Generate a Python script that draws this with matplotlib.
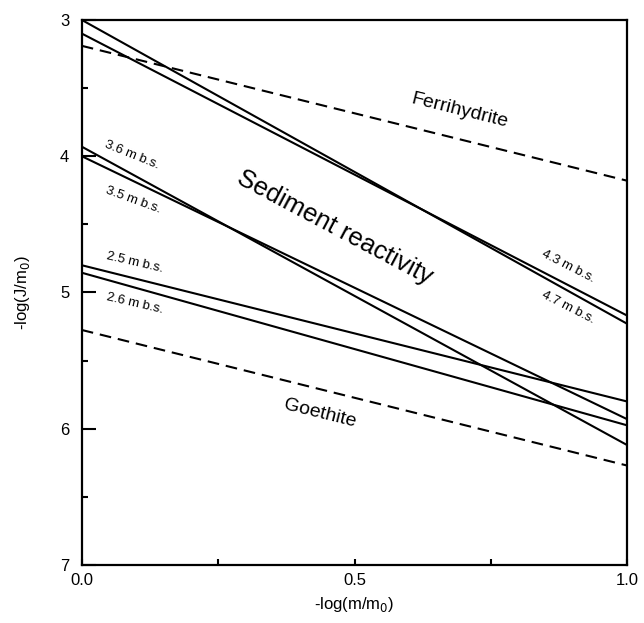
import numpy as np
import matplotlib
matplotlib.use("Agg")
import matplotlib.pyplot as plt
from matplotlib.ticker import MultipleLocator, FormatStrFormatter

plt.rcParams['font.family'] = ['Liberation Sans', 'DejaVu Sans']

# extremos de cada recta: valor en x=0 y en x=1
x_ext = [0.0, 1.0]
prof_labels = ['4.3 m b.s.', '4.7 m b.s.', '3.6 m b.s.', '3.5 m b.s.', '2.5 m b.s.', '2.6 m b.s.']
y_ini = [3.00, 3.10, 3.93, 4.00, 4.80, 4.855]
y_fin = [5.23, 5.17, 6.12, 5.93, 5.80, 5.975]
ferri = [3.19, 4.18]
goeth = [5.275, 6.27]

fig = plt.figure(figsize=(6.44, 6.23), dpi=100)
ax = fig.add_axes([0.127, 0.093, 0.847, 0.875])

for a, b in zip(y_ini, y_fin):
    ax.plot(x_ext, [a, b], color='black', lw=1.5, solid_capstyle='butt')
ax.plot(x_ext, ferri, color='black', lw=1.5, dashes=(5.6, 3.3))
ax.plot(x_ext, goeth, color='black', lw=1.5, dashes=(5.6, 3.3))

ax.set_xlim(0, 1)
ax.set_ylim(7, 3)

ax.xaxis.set_major_locator(MultipleLocator(0.5))
ax.xaxis.set_minor_locator(MultipleLocator(0.25))
ax.yaxis.set_major_locator(MultipleLocator(1))
ax.yaxis.set_minor_locator(MultipleLocator(0.5))
ax.xaxis.set_major_formatter(FormatStrFormatter('%.1f'))
ax.tick_params(which='both', direction='in', top=False, right=False, labelsize=12, width=1.5)
ax.tick_params(axis='y', which='major', length=10, pad=9)
ax.tick_params(axis='y', which='minor', length=4)
ax.tick_params(axis='x', which='major', length=4, pad=6)
ax.tick_params(axis='x', which='minor', length=4)
for s in ax.spines.values():
    s.set_linewidth(1.6)

ax.set_xlabel('-log(m/m$_0$)', fontsize=12, labelpad=5)
ax.set_ylabel('-log(J/m$_0$)', fontsize=12, labelpad=20)

# etiquetas de profundidad
pos_labels = [(0.891, 4.81, -27), (0.891, 5.11, -27), (0.092, 3.99, -22),
              (0.095, 4.32, -20), (0.097, 4.78, -13), (0.097, 5.08, -13)]
for txt, (px, py, rot) in zip(prof_labels, pos_labels):
    ax.text(px, py, txt, fontsize=9.5, rotation=rot, ha='center', va='center', rotation_mode='anchor')

ax.text(0.693, 3.67, 'Ferrihydrite', fontsize=14, rotation=-14, ha='center', va='center', rotation_mode='anchor')
ax.text(0.436, 5.89, 'Goethite', fontsize=14, rotation=-14, ha='center', va='center', rotation_mode='anchor')
ax.text(0.464, 4.52, 'Sediment reactivity', fontsize=18.5, rotation=-28, ha='center', va='center', rotation_mode='anchor')

plt.savefig('out.png', dpi=100)
